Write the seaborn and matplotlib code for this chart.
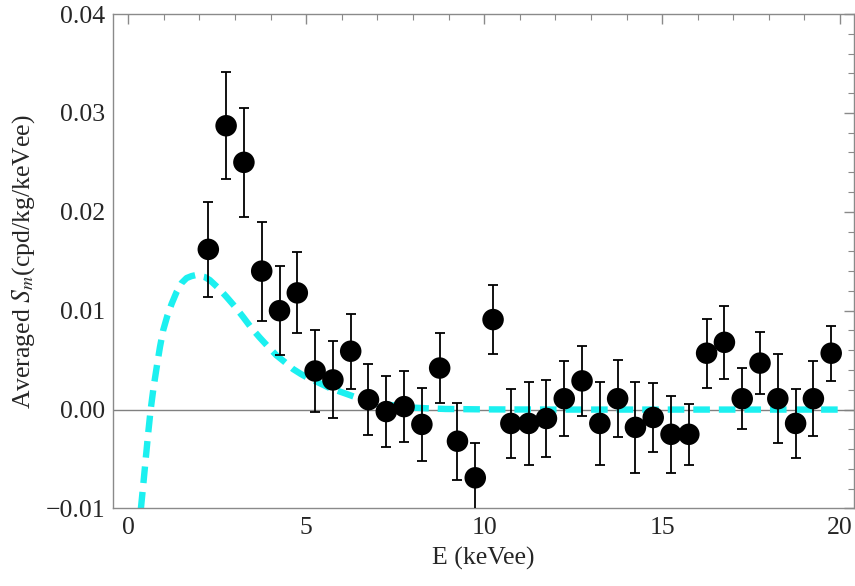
import numpy as np
import pandas as pd
import matplotlib
matplotlib.use("Agg")
import matplotlib.pyplot as plt
import seaborn as sns
from matplotlib.ticker import MultipleLocator

# Data
energy = [2.25, 2.75, 3.25, 3.75, 4.25, 4.75, 5.25, 5.75, 6.25, 6.75, 7.25, 7.75,
          8.25, 8.75, 9.25, 9.75, 10.25, 10.75, 11.25, 11.75, 12.25, 12.75, 13.25,
          13.75, 14.25, 14.75, 15.25, 15.75, 16.25, 16.75, 17.25, 17.75, 18.25,
          18.75, 19.25, 19.75]
sm = [0.0162, 0.0287, 0.0250, 0.0140, 0.0100, 0.0118, 0.0039, 0.0030, 0.0059,
      0.0010, -0.0002, 0.0003, -0.0015, 0.0042, -0.0032, -0.0069, 0.0091,
      -0.0014, -0.0014, -0.0009, 0.0011, 0.0029, -0.0014, 0.0011, -0.0018,
      -0.0008, -0.0025, -0.0025, 0.0057, 0.0068, 0.0011, 0.0047, 0.0011,
      -0.0014, 0.0011, 0.0057]
sm_err = [0.0048, 0.0054, 0.0055, 0.0050, 0.0045, 0.0041, 0.0041, 0.0039, 0.0038,
          0.0036, 0.0036, 0.0036, 0.0037, 0.0035, 0.0039, 0.0035, 0.0035, 0.0035,
          0.0042, 0.0039, 0.0038, 0.0035, 0.0042, 0.0039, 0.0046, 0.0035, 0.0039,
          0.0031, 0.0035, 0.0037, 0.0031, 0.0031, 0.0045, 0.0035, 0.0038, 0.0028]

curve_e = [0.356, 0.43, 0.496, 0.56, 0.63, 0.71, 0.80, 0.89, 0.98, 1.10, 1.22,
           1.36, 1.50, 1.64, 1.78, 1.90, 2.01, 2.15, 2.29, 2.53, 2.76, 3.00,
           3.22, 3.45, 3.69, 3.92, 4.16, 4.40, 4.63, 4.85, 5.05, 5.19, 5.65,
           6.12, 6.58, 7.05, 7.52, 7.99, 8.45, 8.92, 10.0, 12.0, 15.0, 18.0, 20.0]
curve_s = [-0.0100, -0.0073, -0.0048, -0.0024, 0.0000, 0.0022, 0.0043, 0.0063,
           0.0080, 0.0095, 0.0107, 0.0119, 0.0128, 0.0133, 0.0135, 0.0136,
           0.0135, 0.0134, 0.0131, 0.0123, 0.0114, 0.0104, 0.0094, 0.0083,
           0.0073, 0.0064, 0.0055, 0.0048, 0.0041, 0.0036, 0.0032, 0.0030,
           0.0022, 0.0016, 0.0010, 0.0006, 0.0004, 0.0002, 0.00012, 0.00006,
           0.00002, 0.0, 0.0, 0.0, 0.0]

df = pd.DataFrame({"E": energy, "Sm": sm, "err": sm_err})
cdf = pd.DataFrame({"E": curve_e, "Sm": curve_s})

sns.set_theme(style="white")
plt.rcParams["font.family"] = ["Liberation Serif", "DejaVu Serif"]
plt.rcParams["mathtext.fontset"] = "stix"

fig = plt.figure(figsize=(8.55, 5.86), dpi=100)
ax = fig.add_axes([0.1325, 0.1323, 0.9988 - 0.1325, 0.9761 - 0.1323])

ax.axhline(0, color="#808080", lw=1.0, zorder=1)

sns.lineplot(data=cdf, x="E", y="Sm", ax=ax, color="#1cf0f0", linewidth=4.6,
             zorder=2, estimator=None, sort=False)
ax.lines[-1].set_dashes((2.6, 1.4))
ax.lines[-1].set_dash_capstyle("butt")

ax.errorbar(df["E"], df["Sm"], yerr=df["err"], fmt="none", ecolor="black",
            elinewidth=1.3, capsize=3.3, capthick=1.3, zorder=3)
sns.scatterplot(data=df, x="E", y="Sm", ax=ax, color="black", s=240,
                edgecolor="none", zorder=4)

ax.set_xlim(-0.42, 20.39)
ax.set_ylim(-0.01, 0.04)
ax.xaxis.set_major_locator(MultipleLocator(5))
ax.xaxis.set_minor_locator(MultipleLocator(1))
ax.yaxis.set_minor_locator(MultipleLocator(0.002))
ax.set_yticks([-0.01, 0.0, 0.01, 0.02, 0.03, 0.04])
ax.set_yticklabels(["\u22120.01", "0.00", "0.01", "0.02", "0.03", "0.04"])

for s in ax.spines.values():
    s.set_color("#8a8a8a")
    s.set_linewidth(1.0)
ax.tick_params(which="both", direction="in", top=True, right=True,
               color="#8a8a8a", labelsize=18.5, pad=6)
ax.tick_params(which="major", length=7, width=1.0)
ax.tick_params(which="minor", length=4, width=0.8)

ax.set_xlabel("E (keVee)", fontsize=18.5, labelpad=6)
ax.set_ylabel("Averaged $S_m$(cpd/kg/keVee)", fontsize=18.5, labelpad=6)
ax.grid(False)

fig.savefig("out.png", dpi=100)
